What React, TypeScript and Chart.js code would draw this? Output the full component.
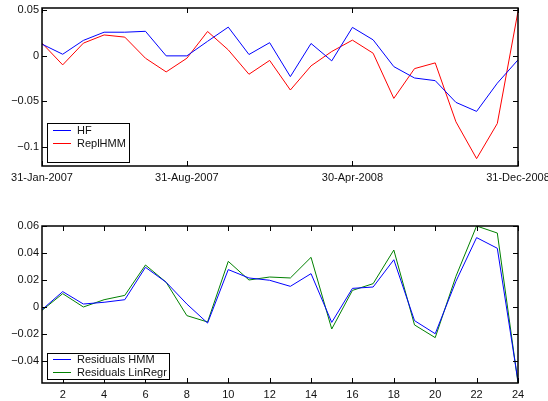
import React, { useEffect, useRef } from 'react';
import { Chart, registerables } from 'chart.js';
Chart.register(...registerables);

const months = [
  '31-Jan-2007', '28-Feb-2007', '31-Mar-2007', '30-Apr-2007', '31-May-2007', '30-Jun-2007',
  '31-Jul-2007', '31-Aug-2007', '30-Sep-2007', '31-Oct-2007', '30-Nov-2007', '31-Dec-2007',
  '31-Jan-2008', '29-Feb-2008', '31-Mar-2008', '30-Apr-2008', '31-May-2008', '30-Jun-2008',
  '31-Jul-2008', '31-Aug-2008', '30-Sep-2008', '31-Oct-2008', '30-Nov-2008', '31-Dec-2008',
];
const topXTicks = [1, 8, 16, 24];
const topYTicks = [0.05, 0, -0.05, -0.1];
const bottomXTicks = [2, 4, 6, 8, 10, 12, 14, 16, 18, 20, 22, 24];
const bottomYTicks = [0.06, 0.04, 0.02, 0, -0.02, -0.04];

const hf = [0.0129, 0.0018, 0.017, 0.026, 0.026, 0.027, 0, 0, 0.016, 0.0316, 0.0015, 0.0145,
  -0.0228, 0.0136, -0.0055, 0.0313, 0.0176, -0.0118, -0.0243, -0.0272, -0.0511, -0.061, -0.030, -0.0044];
const replHmm = [0.014, -0.0099, 0.014, 0.023, 0.0206, -0.0026, -0.0176, -0.0026, 0.0268, 0.0066, -0.0202, -0.005,
  -0.0375, -0.011, 0.0048, 0.0173, 0.0029, -0.0467, -0.014, -0.0077, -0.0724, -0.1129, -0.0743, 0.0489];
const resHmm = [-0.002, 0.0114, 0.0022, 0.0035, 0.0054, 0.0294, 0.0183, 0.0022, -0.0119, 0.0277, 0.0215, 0.0198,
  0.0153, 0.0247, -0.0114, 0.0138, 0.0148, 0.035, -0.0101, -0.0198, 0.019, 0.0514, 0.0435, -0.055];
const resLinRegr = [-0.0025, 0.0099, 0, 0.0054, 0.0086, 0.0311, 0.0183, -0.0064, -0.0111, 0.0338, 0.02, 0.0222,
  0.0215, 0.0368, -0.0163, 0.0123, 0.0173, 0.0422, -0.0133, -0.0227, 0.0227, 0.06, 0.0548, -0.0563];

const FONT = { family: '"Liberation Sans", Arial, Helvetica, sans-serif', size: 11 };

const fmt = (v: number) => (v === 0 ? '0' : (v < 0 ? '\u2212' : '') + String(Math.abs(v)));

const framePlugin = {
  id: 'frame',
  afterDatasetsDraw(chart: any, _args: any, opts: any) {
    const { ctx, chartArea: a, scales } = chart;
    const tl = 5;
    ctx.save();
    ctx.strokeStyle = '#000';
    ctx.lineWidth = 1;
    ctx.beginPath();
    scales.x.ticks.forEach((t: any) => {
      const px = Math.round(scales.x.getPixelForValue(t.value)) + 0.5;
      ctx.moveTo(px, a.bottom); ctx.lineTo(px, a.bottom - tl);
      ctx.moveTo(px, a.top); ctx.lineTo(px, a.top + tl);
    });
    scales.y.ticks.forEach((t: any) => {
      const py = Math.round(scales.y.getPixelForValue(t.value)) + 0.5;
      ctx.moveTo(a.left, py); ctx.lineTo(a.left + tl, py);
      ctx.moveTo(a.right, py); ctx.lineTo(a.right - tl, py);
    });
    ctx.stroke();
    ctx.lineWidth = 1.5;
    ctx.strokeRect(a.left, a.top, a.right - a.left, a.bottom - a.top);

    // legend
    const lg = opts.legend;
    if (lg) {
      const bx = a.left + 5;
      const by = a.bottom - 4 - lg.h;
      ctx.fillStyle = '#fff';
      ctx.fillRect(bx, by, lg.w, lg.h);
      ctx.lineWidth = 1;
      ctx.strokeStyle = '#000';
      ctx.strokeRect(bx + 0.5, by + 0.5, lg.w, lg.h);
      ctx.font = `${FONT.size}px ${FONT.family}`;
      ctx.textBaseline = 'middle';
      ctx.textAlign = 'left';
      chart.data.datasets.forEach((ds: any, i: number) => {
        const y = Math.round(by + lg.rows[i]) + 0.5;
        ctx.strokeStyle = ds.borderColor;
        ctx.beginPath();
        ctx.moveTo(bx + 6, y); ctx.lineTo(bx + 24, y);
        ctx.stroke();
        ctx.fillStyle = '#111';
        ctx.fillText(ds.label, bx + 30, y);
      });
    }
    ctx.restore();
  },
};

function makeChart(canvas: HTMLCanvasElement, cfg: any) {
  const { xTicks, yTicks, xLabel, yMin, yMax, datasets, legend, padTop, xHeight } = cfg;
  return new Chart(canvas, {
    type: 'line',
    data: {
      datasets: datasets.map((d: any) => ({
        label: d.label,
        data: d.values.map((v: number, i: number) => ({ x: i + 1, y: v })),
        borderColor: d.color,
        backgroundColor: d.color,
        borderWidth: 1,
        pointRadius: 0,
        tension: 0,
        fill: false,
      })),
    },
    options: {
      animation: false,
      responsive: false,
      devicePixelRatio: 1,
      layout: { padding: { top: padTop, left: 0, right: 30, bottom: 0 } },
      plugins: {
        legend: { display: false },
        tooltip: { enabled: false },
        frame: { legend },
      } as any,
      scales: {
        x: {
          type: 'linear',
          min: 1,
          max: 24,
          grid: { display: false, drawTicks: false },
          border: { display: false },
          ticks: {
            font: FONT,
            color: '#111',
            padding: 5,
            maxRotation: 0,
            autoSkip: false,
            callback: (v: any) => xLabel(v),
          },
          afterBuildTicks: (s: any) => { s.ticks = xTicks.map((v: number) => ({ value: v })); },
          afterFit: (s: any) => {
            s.height = xHeight;
            s.paddingLeft = 0; s.paddingRight = 0; s.paddingTop = 0; s.paddingBottom = 0;
          },
        },
        y: {
          type: 'linear',
          min: yMin,
          max: yMax,
          grid: { display: false, drawTicks: false },
          border: { display: false },
          ticks: {
            font: FONT,
            color: '#111',
            padding: 3,
            autoSkip: false,
            callback: (v: any) => fmt(v),
          },
          afterBuildTicks: (s: any) => { s.ticks = yTicks.map((v: number) => ({ value: v })); },
          afterFit: (s: any) => {
            s.width = 42;
            s.paddingLeft = 0; s.paddingRight = 0; s.paddingTop = 0; s.paddingBottom = 0;
          },
        },
      },
    } as any,
    plugins: [framePlugin],
  });
}

export default function App() {
  const topRef = useRef<HTMLCanvasElement>(null);
  const botRef = useRef<HTMLCanvasElement>(null);
  useEffect(() => {
    const c1 = makeChart(topRef.current!, {
      xTicks: topXTicks,
      yTicks: topYTicks,
      xLabel: (v: number) => months[v - 1],
      yMin: -0.121,
      yMax: 0.0526,
      padTop: 8,
      xHeight: 34,
      datasets: [
        { label: 'HF', values: hf, color: '#0000ff' },
        { label: 'ReplHMM', values: replHmm, color: '#ff0000' },
      ],
      legend: { w: 82, h: 39, rows: [7.3, 19.6] },
    });
    const c2 = makeChart(botRef.current!, {
      xTicks: bottomXTicks,
      yTicks: bottomYTicks,
      xLabel: (v: number) => String(v),
      yMin: -0.0563,
      yMax: 0.06,
      padTop: 26,
      xHeight: 18,
      datasets: [
        { label: 'Residuals HMM', values: resHmm, color: '#0000ff' },
        { label: 'Residuals LinRegr', values: resLinRegr, color: '#008000' },
      ],
      legend: { w: 122, h: 26, rows: [6.3, 19] },
    });
    return () => { c1.destroy(); c2.destroy(); };
  }, []);
  return (
    <div style={{ position: 'absolute', left: 0, top: 0, width: 548, height: 401, background: '#fff' }}>
      <canvas ref={topRef} width={548} height={200} style={{ display: 'block', width: 548, height: 200 }} />
      <canvas ref={botRef} width={548} height={201} style={{ display: 'block', width: 548, height: 201 }} />
    </div>
  );
}
